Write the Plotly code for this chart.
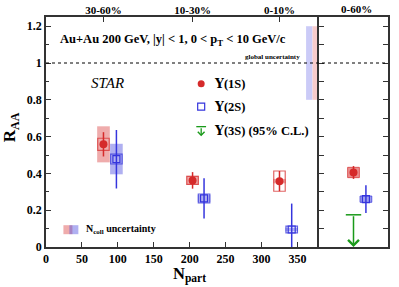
import plotly.graph_objects as go

# ---------------- data ----------------
npart_1s = [80, 204, 325]
raa_1s = [0.558, 0.362, 0.358]
stat_1s = [0.066, 0.045, 0.055]
sys_1s = [0.033, 0.022, 0.055]
ncoll_1s = [0.098, 0.025, 0.012]

npart_2s = [98, 220, 342]
raa_2s = [0.478, 0.264, 0.095]
stat_2s_up = [0.158, 0.109, 0.141]
stat_2s_dn = [0.160, 0.109, 0.095]
sys_2s = [0.027, 0.024, 0.018]
ncoll_2s = [0.083, 0.020, 0.010]

# integrated 0-60% (right panel)
int_pos = {"1S": 0.5, "2S": 0.68, "3S": 0.5}
int_1s, int_1s_stat, int_1s_sys = 0.405, 0.035, 0.028
int_2s, int_2s_stat, int_2s_sys = 0.26, 0.075, 0.017
int_3s_limit = 0.175

cent_npart = [80, 204, 325]
cent_labels = ["30-60%", "10-30%", "0-10%"]

glob_unc_1s = 0.2
glob_unc_2s = 0.2

RED = "#d52a2a"
RED_FILL = "rgba(220,70,70,0.45)"
RED_LINE = "rgba(215,50,50,0.75)"
BLUE = "#3535dd"
BLUE_FILL = "rgba(80,80,225,0.45)"
BLUE_LINE = "rgba(60,60,220,0.8)"
GREEN = "#1a9a1a"
AX = "#333333"
FONT = "Liberation Serif"

fig = go.Figure()

shapes = []
hw = 8  # box half width in Npart units
hw2 = 0.085

def box(xref, yref, x0, x1, y0, y1, fill=None, line=None, lw=1):
    shapes.append(dict(type="rect", xref=xref, yref=yref, x0=x0, x1=x1, y0=y0, y1=y1,
                       fillcolor=fill if fill else "rgba(0,0,0,0)",
                       line=dict(color=line if line else "rgba(0,0,0,0)", width=lw),
                       layer="below"))

for x, y, s, n in zip(npart_1s, raa_1s, sys_1s, ncoll_1s):
    box("x", "y", x - hw - 0.8, x + hw + 0.8, y - n, y + n, fill=RED_FILL)
    box("x", "y", x - hw, x + hw, y - s, y + s, line=RED_LINE, lw=1.2)
for x, y, s, n in zip(npart_2s, raa_2s, sys_2s, ncoll_2s):
    box("x", "y", x - hw - 0.8, x + hw + 0.8, y - n, y + n, fill=BLUE_FILL)
    box("x", "y", x - hw, x + hw, y - s, y + s, line=BLUE_LINE, lw=1.2)

# right panel boxes
x1s = int_pos["1S"]
x2s = int_pos["2S"]
box("x2", "y2", x1s - hw2, x1s + hw2, int_1s - int_1s_sys, int_1s + int_1s_sys, fill="rgba(220,70,70,0.6)", line=RED_LINE)
box("x2", "y2", x2s - hw2, x2s + hw2, int_2s - int_2s_sys, int_2s + int_2s_sys, fill="rgba(80,80,225,0.55)", line=BLUE_LINE)

# dashed line at 1
shapes.append(dict(type="line", xref="paper", yref="y", x0=0, x1=1, y0=1, y1=1,
                   line=dict(color="black", width=1, dash="dot")))

# global uncertainty bands (patterned areas)
gx_2s = [362, 371]
gx_1s = [371, 379]
for (xa, xb), unc, col in [(gx_2s, glob_unc_2s, "#3030e0"), (gx_1s, glob_unc_1s, "#e03030")]:
    fig.add_trace(go.Scatter(x=[xa, xb, xb, xa, xa], y=[1 - unc, 1 - unc, 1 + unc, 1 + unc, 1 - unc],
                             mode="lines", line=dict(width=0, color=col), fill="toself",
                             fillcolor="white",
                             fillpattern=dict(shape="+", fgcolor=col, bgcolor="white", size=2, solidity=0.5),
                             showlegend=False, hoverinfo="skip", xaxis="x", yaxis="y"))

# 1S points
fig.add_trace(go.Scatter(x=npart_1s, y=raa_1s, mode="markers",
                         error_y=dict(type="data", array=stat_1s, color=RED, thickness=1.5, width=0),
                         marker=dict(symbol="circle", size=8, color=RED),
                         xaxis="x", yaxis="y", showlegend=False))
# 2S points
fig.add_trace(go.Scatter(x=npart_2s, y=raa_2s, mode="markers",
                         error_y=dict(type="data", symmetric=False, array=stat_2s_up, arrayminus=stat_2s_dn,
                                      color=BLUE, thickness=1.5, width=0),
                         marker=dict(symbol="square-open", size=7, color=BLUE, line=dict(width=1.2)),
                         xaxis="x", yaxis="y", showlegend=False))

# right panel points
fig.add_trace(go.Scatter(x=[x1s], y=[int_1s], mode="markers",
                         error_y=dict(type="data", array=[int_1s_stat], color=RED, thickness=1.5, width=0),
                         marker=dict(symbol="circle", size=8, color=RED),
                         xaxis="x2", yaxis="y2", showlegend=False))
fig.add_trace(go.Scatter(x=[x2s], y=[int_2s], mode="markers",
                         error_y=dict(type="data", array=[int_2s_stat], color=BLUE, thickness=1.5, width=0),
                         marker=dict(symbol="square-open", size=7, color=BLUE, line=dict(width=1.2)),
                         xaxis="x2", yaxis="y2", showlegend=False))
fig.add_trace(go.Scatter(x=[int_pos["3S"]], y=[int_3s_limit], mode="markers",
                         marker=dict(symbol="line-ew", size=11, line=dict(color=GREEN, width=1.5)),
                         xaxis="x2", yaxis="y2", showlegend=False))

# legend markers
leg_x = 216
leg_y = [0.887, 0.763, 0.632]
fig.add_trace(go.Scatter(x=[leg_x], y=[leg_y[0]], mode="markers",
                         marker=dict(symbol="circle", size=7, color=RED), showlegend=False))
fig.add_trace(go.Scatter(x=[leg_x], y=[leg_y[1]], mode="markers",
                         marker=dict(symbol="square-open", size=7, color=BLUE, line=dict(width=1.2)), showlegend=False))
fig.add_trace(go.Scatter(x=[leg_x], y=[leg_y[2] + 0.022], mode="markers",
                         marker=dict(symbol="line-ew", size=7, line=dict(color=GREEN, width=1.3)), showlegend=False))
# Ncoll legend squares
fig.add_trace(go.Scatter(x=[30.5, 38.8], y=[0.094, 0.094], mode="markers",
                         marker=dict(symbol="square", size=9, color=[RED_FILL, BLUE_FILL]), showlegend=False))

# invisible trace for top axis
fig.add_trace(go.Scatter(x=cent_npart, y=[None] * 3, xaxis="x3", yaxis="y", showlegend=False, hoverinfo="skip"))

annotations = []
def txt(text, x, y, size, xref="x", yref="y", xanchor="left", yanchor="middle", bold=True, italic=False, textangle=0, color="black"):
    annotations.append(dict(text=text, x=x, y=y, xref=xref, yref=yref, xanchor=xanchor, yanchor=yanchor,
                            showarrow=False, textangle=textangle,
                            font=dict(family=FONT, size=size, color=color, weight="bold" if bold else "normal",
                                      style="italic" if italic else "normal")))

UPS = "<span style='font-family:DejaVu Serif'>Υ</span>"
txt("Au+Au 200 GeV, |y| < 1, 0 < p<sub>T</sub> < 10 GeV/c", 16.5, 1.125, 12.5)
txt("STAR", 60, 0.89, 15, bold=False, italic=True)
txt("global uncertainty", 357, 1.035, 7, xanchor="right")
txt(UPS + "(1S)", 231, leg_y[0], 12.5)
txt(UPS + "(2S)", 231, leg_y[1], 12.5)
txt(UPS + "(3S) (95% C.L.)", 231, leg_y[2], 12.5)
txt("N<sub>coll</sub> uncertainty", 52.5, 0.096, 10)
txt("0-60%", 0.55, 1.0, 11, xref="x2 domain", yref="paper", xanchor="center", yanchor="bottom")
txt("R<sub>AA</sub>", -0.1, 0.52, 17, xref="paper", yref="paper", xanchor="center", textangle=-90)
txt("N<sub>part</sub>", 0.42, -0.118, 16.5, xref="paper", yref="paper", xanchor="center")

# arrows: 3S limit
annotations.append(dict(x=int_pos["3S"], y=0.0, ax=int_pos["3S"], ay=int_3s_limit, xref="x2", yref="y2",
                        axref="x2", ayref="y2", showarrow=True, arrowhead=4, arrowsize=1.4, arrowwidth=1.5,
                        arrowcolor=GREEN, text=""))
annotations.append(dict(x=leg_x, y=leg_y[2] - 0.03, ax=leg_x, ay=leg_y[2] + 0.022, xref="x", yref="y",
                        axref="x", ayref="y", showarrow=True, arrowhead=4, arrowsize=1.0, arrowwidth=1.3,
                        arrowcolor=GREEN, text=""))

tickfont = dict(family=FONT, size=12, color="black", weight="bold")
split = 273 / 342

fig.update_layout(
    width=399, height=287,
    margin=dict(l=46, r=11, t=17, b=40, autoexpand=False),
    paper_bgcolor="white", plot_bgcolor="white",
    showlegend=False,
    shapes=shapes, annotations=annotations,
    xaxis=dict(domain=[0, split], range=[0, 380], tickvals=[0, 50, 100, 150, 200, 250, 300, 350],
               ticks="inside", ticklen=5, tickwidth=1, tickcolor=AX, showgrid=False, zeroline=False,
               showline=True, linecolor=AX, linewidth=1.5, mirror=True, tickfont=tickfont, anchor="y",
               automargin=False),
    xaxis3=dict(overlaying="x", side="top", range=[0, 380], tickvals=cent_npart, ticktext=cent_labels,
                ticks="inside", ticklen=5, tickcolor=AX, showgrid=False, zeroline=False, showline=False,
                tickfont=dict(family=FONT, size=11, color="black", weight="bold"), anchor="y",
                automargin=False),
    yaxis=dict(domain=[0, 1], range=[0, 1.25], tickvals=[0, 0.2, 0.4, 0.6, 0.8, 1.0, 1.2],
               ticktext=["0", "0.2", "0.4", "0.6", "0.8", "1", "1.2"],
               ticks="inside", ticklen=5, tickcolor=AX, showgrid=False, zeroline=False,
               minor=dict(dtick=0.1, tick0=0, ticks="inside", ticklen=3, tickcolor=AX),
               showline=True, linecolor=AX, linewidth=1.5, tickfont=tickfont, anchor="x",
               automargin=False),
    xaxis2=dict(domain=[split, 1], range=[0, 1], showticklabels=False, ticks="", showgrid=False,
                zeroline=False, showline=True, linecolor=AX, linewidth=1.5, mirror=True, anchor="y2",
                automargin=False),
    yaxis2=dict(domain=[0, 1], range=[0, 1.25], dtick=0.1, tick0=0, showticklabels=False, ticks="inside",
                ticklen=5, tickcolor=AX, showgrid=False, zeroline=False, showline=True, linecolor=AX,
                linewidth=1.5, mirror="ticks", anchor="x2", automargin=False),
)

fig.write_html("out.html", config={"displayModeBar": False},
               post_script="document.body.style.margin='0';document.body.style.overflow='hidden';")
